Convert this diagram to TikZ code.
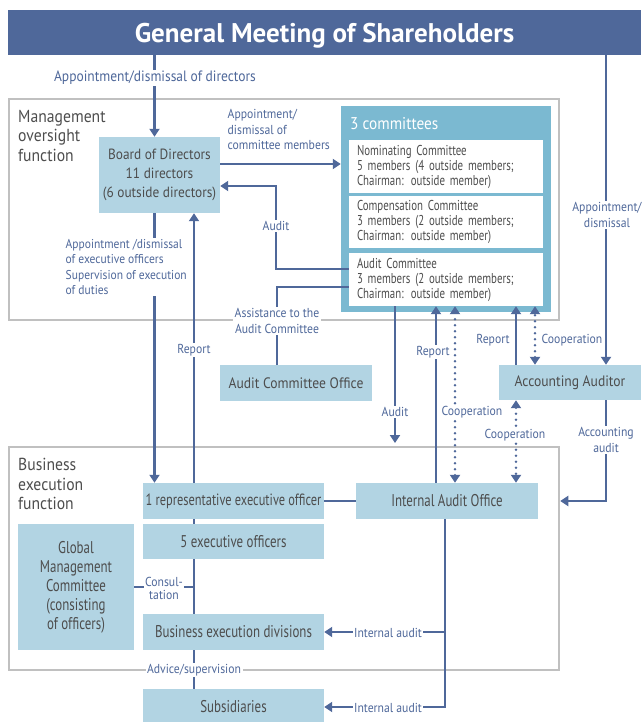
\documentclass[tikz,border=0pt]{standalone}
\usepackage{fontspec}
\setmainfont[FakeStretch=0.9]{PT Sans}
\newfontfamily\headfont{PT Sans}
\newfontfamily\narrowfont[FakeStretch=0.76]{PT Sans}
\usetikzlibrary{arrows.meta,positioning}
\definecolor{orgblue}{RGB}{79,104,154}
\definecolor{orgbox}{RGB}{178,212,227}
\definecolor{orgcomm}{RGB}{123,185,209}
\definecolor{orggray}{RGB}{192,192,192}
\definecolor{orgtext}{RGB}{77,77,77}

\begin{document}
\begin{tikzpicture}[x=1pt, y=-1pt,
  box/.style={fill=orgbox, text=orgtext, inner sep=0pt, align=center, font=\fontsize{15.1}{19}\selectfont},
  unit/.style={box, font=\narrowfont\fontsize{17}{19}\selectfont},
  member/.style={fill=white, text=orgtext, text width=178pt, inner xsep=8pt, inner ysep=0pt, minimum height=53pt, align=left, font=\narrowfont\fontsize{14.3}{15}\selectfont},
  frame/.style={draw=orggray, line width=2.5pt, inner sep=0pt},
  area/.style={text=orgtext, align=left, anchor=north west, inner sep=0pt, font=\fontsize{17.4}{19.5}\selectfont},
  lbl/.style={text=orgblue, fill=white, inner sep=1.5pt, align=center, font=\fontsize{13}{15.5}\selectfont},
  link/.style={draw=orgblue, line width=2.2pt},
  arr/.style={link, -{Triangle[width=10pt,length=8pt]}},
  coop/.style={link, line width=2.8pt, dash pattern=on 0pt off 6pt, line cap=round, {Triangle[width=10pt,length=8pt]}-{Triangle[width=10pt,length=8pt]}}
]
\useasboundingbox (0,0) rectangle (641,722);

% Shareholders
\node[fill=orgblue, text=white, minimum width=633pt, minimum height=45pt, inner sep=0pt, text depth=0pt, font=\headfont\bfseries\fontsize{27}{30}\selectfont] (gms) at (324.5,32.5) {General Meeting of Shareholders};

% Function frames
\node[frame, minimum width=550pt, minimum height=221pt] (mof) at (284,209.5) {};
\node[frame, minimum width=550pt, minimum height=223pt] (bef) at (284,558.5) {};
\node[area] (moflbl) at (18,110) {Management\\oversight\\function};
\node[area] (beflbl) at (18,458) {Business\\execution\\function};

% Board
\node[box, minimum width=121pt, minimum height=76pt, font=\fontsize{14.8}{19}\selectfont] (board) at (159.5,175) {Board of Directors\\11 directors\\(6 outside directors)};

% Committees
\node[fill=orgcomm, minimum width=210pt, minimum height=206pt, inner sep=0pt] (comm) at (446,209) {};
\node[anchor=west, text=white, inner sep=0pt, font=\fontsize{17}{20}\selectfont] (commlbl) at (350,124) {3 committees};
\node[member] (nom) at (446,166.5) {Nominating Committee\\5 members (4 outside members;\\Chairman: outside member)};
\node[member, minimum height=52pt] (comp) at (446,222) {Compensation Committee\\3 members (2 outside members;\\Chairman: outside member)};
\node[member] (audc) at (446,279.5) {Audit Committee\\3 members (2 outside members;\\Chairman: outside member)};

% Offices
\node[box, minimum width=152pt, minimum height=36pt] (aco) at (296,383) {Audit Committee Office};
\node[box, minimum width=142pt, minimum height=35pt] (aa) at (570,382.5) {Accounting Auditor};

% Business execution
\node[unit, minimum width=181pt, minimum height=36pt, font=\narrowfont\fontsize{16.3}{19}\selectfont] (rep) at (233.5,501) {1 representative executive officer};
\node[unit, minimum width=181pt, minimum height=35pt] (five) at (233.5,541.5) {5 executive officers};
\node[unit, minimum width=181pt, minimum height=36pt] (div) at (233.5,632) {Business execution divisions};
\node[unit, minimum width=181pt, minimum height=36pt] (subs) at (233.5,707) {Subsidiaries};
\node[unit, minimum width=116pt, minimum height=126pt] (gmc) at (76,587) {Global\\Management\\Committee\\(consisting\\of officers)};
\node[unit, minimum width=182pt, minimum height=36pt] (iao) at (447,501) {Internal Audit Office};

% Oversight connectors
\draw[arr] ([xshift=-5pt]board.north |- gms.south) -- ([xshift=-5pt]board.north);
\draw[arr] ([xshift=36pt]aa.north |- gms.south) -- ([xshift=36pt]aa.north);
\draw[arr] ([yshift=11pt]board.east) -- ([yshift=11pt]board.east -| comm.west);
\draw[arr] ([yshift=10.5pt]audc.west) -- ++(-73,0) |- ([yshift=-11pt]board.east);
\draw[link] ([yshift=-7.5pt]audc.west) -| ([xshift=-19pt]aco.north);
\draw[arr] ([xshift=-5pt]board.south) -- ([xshift=-5pt]board.south |- rep.north);

% Report line through execution boxes
\foreach \a/\b in {subs/div, div/five, five/rep}
  \draw[link] ([xshift=-39.5pt]\a.north) -- ([xshift=-39.5pt]\b.south);
\draw[arr] ([xshift=-39.5pt]rep.north) -- ([xshift=-39.5pt]rep.north |- board.south);
\draw[link] (gmc.east) -- ++(60,0);

% Internal audit
\draw[link] (rep) -- (iao);
\draw[arr] ([xshift=-2pt]iao.south) |- (div.east);
\draw[arr] ([xshift=-2pt]iao.south) |- (subs.east);

% Audit, report, cooperation
\coordinate (auditend) at (395,443);
\draw[arr] (audc.south -| auditend) -- (auditend);
\draw[arr] ([xshift=-11pt]iao.north) -- ([xshift=-11pt]iao.north |- audc.south);
\draw[coop] ([xshift=8pt]iao.north) -- ([xshift=8pt]iao.north |- audc.south);
\draw[arr] ([xshift=-54pt]aa.north) -- ([xshift=-54pt]aa.north |- audc.south);
\draw[coop] ([xshift=-35pt]aa.north) -- ([xshift=-35pt]aa.north |- audc.south);
\draw[coop] ([xshift=-54pt]aa.south) -- ([xshift=-54pt]aa.south |- iao.north);
\draw[arr] ([xshift=36pt]aa.south) |- (bef.east |- iao.east);

% Labels
\node[lbl, font=\fontsize{15}{17}\selectfont] (dirlbl) at (155,78) {Appointment/dismissal of directors};
\node[lbl] (aalbl) at (607,215) {Appointment/\\dismissal};
\node[lbl, align=left, anchor=north west] (memlbl) at (226,108) {Appointment/\\dismissal of\\committee members};
\node[lbl] (auditlbl) at (276,226) {Audit};
\node[lbl] (assistlbl) at (277,321) {Assistance to the\\Audit Committee};
\node[lbl, align=left, anchor=west, font=\fontsize{12.8}{15.5}\selectfont] (execlbl) at (64,267) {Appointment /dismissal\\of executive officers\\Supervision of execution\\of duties};
\node[lbl] (replbl) at (194,350) {Report};
\node[lbl, font=\fontsize{13}{13}\selectfont] (conslbl) at (164,588) {Consul-\\tation};
\node[lbl] (advlbl) at (194,670) {Advice/supervision};
\node[lbl] (ialbl) at (388,633) {Internal audit};
\node[lbl] (iblbl) at (388,708) {Internal audit};
\node[lbl] (auditdlbl) at (395,412) {Audit};
\node[lbl] (iaorep) at (433,352) {Report};
\node[lbl] (iaocoop) at (472,412) {Cooperation};
\node[lbl] (aarep) at (493,340) {Report};
\node[lbl] (aacoop) at (572,340) {Cooperation};
\node[lbl] (aaiao) at (515,435) {Cooperation};
\node[lbl] (acclbl) at (606,440) {Accounting\\audit};
\end{tikzpicture}
\end{document}
